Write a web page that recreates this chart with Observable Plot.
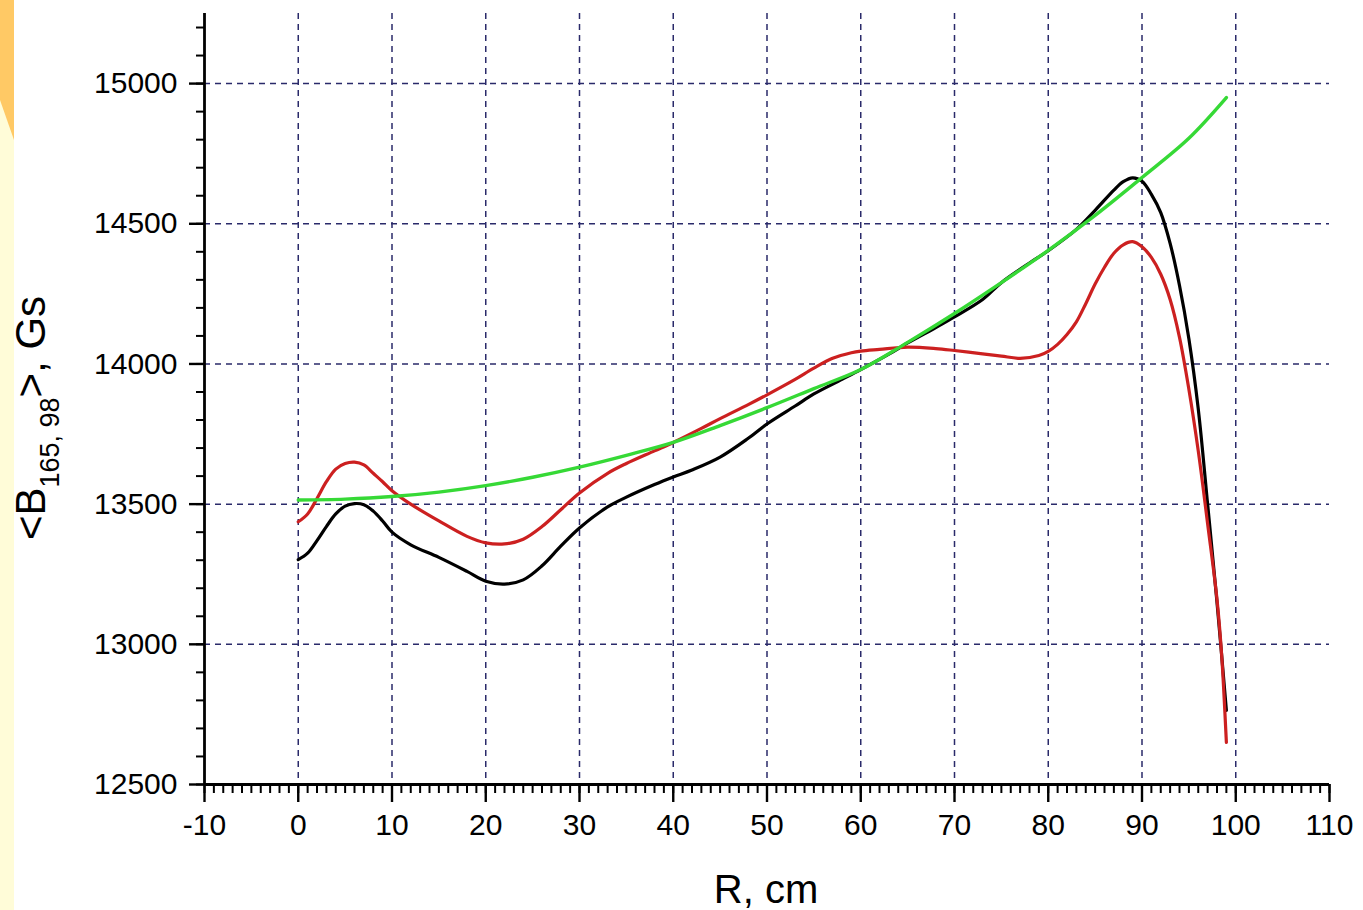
<!DOCTYPE html>
<html>
<head>
<meta charset="utf-8">
<script src="https://cdn.jsdelivr.net/npm/d3@7"></script>
<script src="https://cdn.jsdelivr.net/npm/@observablehq/plot@0.6"></script>
<style>
  html, body { margin: 0; padding: 0; background: white; overflow: hidden; }
  #chart { position: absolute; left: 0; top: 0; width: 1363px; height: 910px; }
</style>
</head>
<body>
<div id="chart"></div>
<script>
// ---- data ----
const rBlack = [0, 1, 2, 3, 4, 5, 6, 7, 8, 9, 10, 12, 15, 18, 20, 22, 24, 26, 28, 30, 33, 35, 38, 40, 42, 45, 48, 50, 53, 55, 58, 60, 63, 65, 68, 70, 73, 75, 78, 80, 83, 85, 87, 88, 89, 90, 91, 92, 93, 94, 95, 96, 97, 98, 99];
const bBlack = [13302, 13325, 13370, 13420, 13465, 13493, 13502, 13498, 13475, 13440, 13400, 13355, 13310, 13260, 13225, 13215, 13230, 13280, 13350, 13415, 13490, 13525, 13570, 13597, 13622, 13668, 13735, 13786, 13850, 13893, 13945, 13980, 14035, 14075, 14130, 14168, 14230, 14290, 14360, 14404, 14480, 14548, 14620, 14650, 14664, 14652, 14605, 14540, 14430, 14280, 14090, 13840, 13500, 13150, 12764];

const rRed = [0, 1, 2, 3, 4, 5, 6, 7, 8, 9, 10, 12, 15, 18, 20, 22, 24, 26, 28, 30, 33, 35, 38, 40, 43, 45, 48, 50, 53, 55, 57, 59, 60, 62, 65, 68, 70, 73, 75, 77, 79, 80, 81, 82, 83, 84, 85, 86, 87, 88, 89, 90, 91, 92, 93, 94, 95, 96, 97, 98, 98.5, 99];
const bRed = [13437, 13465, 13520, 13580, 13625, 13645, 13650, 13640, 13610, 13580, 13548, 13500, 13440, 13385, 13362, 13358, 13375, 13420, 13480, 13540, 13610, 13645, 13690, 13720, 13770, 13805, 13855, 13890, 13945, 13985, 14020, 14040, 14046, 14052, 14060, 14055, 14048, 14036, 14028, 14020, 14030, 14045, 14070, 14105, 14150, 14215, 14285, 14345, 14395, 14425, 14436, 14418, 14380, 14320, 14230, 14095, 13910, 13690, 13430, 13160, 12960, 12650];

const rGreen = [0, 5, 10, 15, 20, 25, 30, 35, 40, 45, 50, 55, 60, 65, 70, 75, 80, 85, 90, 95, 99];
const bGreen = [13515, 13518, 13527, 13543, 13566, 13596, 13632, 13674, 13720, 13780, 13844, 13912, 13980, 14077, 14180, 14290, 14405, 14530, 14665, 14805, 14950];

const xTicks = [-10, 0, 10, 20, 30, 40, 50, 60, 70, 80, 90, 100, 110];
const xMinorTicks = d3.range(-10, 111, 1);
const xGridLines = [0, 10, 20, 30, 40, 50, 60, 70, 80, 90, 100];
const yTicks = [12500, 13000, 13500, 14000, 14500, 15000];
const yMinorTicks = d3.range(12500, 15201, 100);
const yGridLines = [13000, 13500, 14000, 14500, 15000];

const xTitle = "R, cm";
const yTitleMain = "<B";
const yTitleSub = "165, 98";
const yTitleEnd = ">, Gs";

// ---- build tables ----
const black = rBlack.map((r, i) => ({r, b: bBlack[i]}));
const red = rRed.map((r, i) => ({r, b: bRed[i]}));
const green = rGreen.map((r, i) => ({r, b: bGreen[i]}));

const gridStyle = {stroke: "#2a2a6a", strokeOpacity: 1, strokeWidth: 1.5, strokeDasharray: "6,5"};

const chart = Plot.plot({
  width: 1363,
  height: 910,
  marginLeft: 204,
  marginRight: 34,
  marginTop: 13,
  marginBottom: 126,
  x: {domain: [-10, 110]},
  y: {domain: [12500, 15250]},
  style: {fontFamily: "'Liberation Sans', Arial, sans-serif", background: "transparent", color: "black"},
  marks: [
    Plot.gridX(xGridLines, gridStyle),
    Plot.gridY(yGridLines, gridStyle),
    Plot.axisX(xMinorTicks, {tickSize: 9, text: null, strokeWidth: 2, label: null}),
    Plot.axisX(xTicks, {tickSize: 18, tickPadding: 11, fontSize: 30, strokeWidth: 2.4, label: null, tickFormat: d => String(d)}),
    Plot.axisY(yMinorTicks, {tickSize: 8, text: null, strokeWidth: 2, label: null}),
    Plot.axisY(yTicks, {tickSize: 15, tickPadding: 12, fontSize: 30, strokeWidth: 2.4, label: null, tickFormat: d => String(d)}),
    Plot.ruleY([12500], {stroke: "black", strokeWidth: 2.8}),
    Plot.ruleX([-10], {stroke: "black", strokeWidth: 2.8}),
    Plot.line(black, {x: "r", y: "b", stroke: "#000000", strokeWidth: 3.2, curve: "catmull-rom"}),
    Plot.line(red, {x: "r", y: "b", stroke: "#cc2020", strokeWidth: 3.2, curve: "catmull-rom"}),
    Plot.line(green, {x: "r", y: "b", stroke: "#36d936", strokeWidth: 3.4, curve: "catmull-rom"})
  ]
});

document.getElementById("chart").appendChild(chart);

const svg = d3.select(chart);
// left decorative strip
svg.insert("rect", ":first-child").attr("x", 0).attr("y", 0).attr("width", 14).attr("height", 910).attr("fill", "#fffcd8");
svg.insert("path", ":nth-child(2)").attr("d", "M0,0 L14,0 L14,140 L0,100 Z").attr("fill", "#ffc965");

// x axis title
svg.append("text")
  .attr("x", 766).attr("y", 903)
  .attr("text-anchor", "middle")
  .style("font-size", "40px")
  .style("font-family", "'Liberation Sans', Arial, sans-serif")
  .attr("fill", "black")
  .text(xTitle);

// y axis title with subscript
const yt = svg.append("text")
  .attr("transform", "translate(45,418) rotate(-90)")
  .attr("text-anchor", "middle")
  .style("font-size", "42px")
  .style("font-family", "'Liberation Sans', Arial, sans-serif")
  .attr("fill", "black");
yt.append("tspan").text(yTitleMain);
yt.append("tspan").attr("dy", 14).style("font-size", "27px").text(yTitleSub);
yt.append("tspan").attr("dy", -14).text(yTitleEnd);
</script>
</body>
</html>
